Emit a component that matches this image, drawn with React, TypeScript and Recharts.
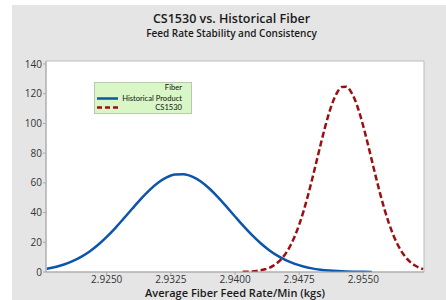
import {
  LineChart,
  Line,
  XAxis,
  YAxis,
  Legend,
  ReferenceArea,
} from "recharts";

// Feed rate (kg/min) readings and density values
const histRate = [
  2.918, 2.919, 2.92, 2.921, 2.922, 2.923, 2.924, 2.925, 2.926, 2.927,
  2.928, 2.929, 2.93, 2.931, 2.932, 2.933, 2.934, 2.935, 2.936, 2.937,
  2.938, 2.939, 2.94, 2.941, 2.942, 2.943, 2.944, 2.945, 2.946, 2.947,
  2.948, 2.949, 2.95, 2.951, 2.952, 2.953, 2.954, 2.955, 2.956,
];
const histDensity = [
  2.25, 3.42, 5.06, 7.27, 10.18, 13.86, 18.35, 23.63, 29.59, 36.04,
  42.7, 49.2, 55.13, 60.09, 63.7, 65.67, 65.85, 64.23, 60.93, 56.21,
  50.44, 44.02, 37.37, 30.85, 24.77, 19.35, 14.69, 10.86, 7.8, 5.45,
  3.7, 2.45, 1.58, 0.98, 0.6, 0.35, 0.2, 0.11, 0.06,
];

const csRate = [
  2.9409, 2.9415, 2.942, 2.9425, 2.943, 2.9435, 2.944, 2.9445, 2.945, 2.9455,
  2.946, 2.9465, 2.947, 2.9475, 2.948, 2.9485, 2.949, 2.9495, 2.95, 2.9505,
  2.951, 2.9515, 2.952, 2.9525, 2.953, 2.9535, 2.954, 2.9545, 2.955, 2.9555,
  2.956, 2.9565, 2.957, 2.9575, 2.958, 2.9585, 2.959, 2.9595, 2.96, 2.9605,
  2.961, 2.9615, 2.962,
];
const csDensity = [
  0.12, 0.24, 0.41, 0.69, 1.14, 1.82, 2.83, 4.3, 6.39, 9.25,
  13.06, 18.0, 24.2, 31.76, 40.68, 50.81, 61.95, 73.67, 85.5, 96.82,
  106.97, 115.33, 121.32, 124.52, 124.7, 121.86, 116.19, 108.09, 98.11, 86.9,
  75.1, 63.33, 52.1, 41.83, 32.76, 25.04, 18.68, 13.59, 9.65, 6.68,
  4.52, 2.98, 1.92,
];

const xTicks = [2.925, 2.9325, 2.94, 2.9475, 2.955];
const yTicks = [0, 20, 40, 60, 80, 100, 120, 140];

const histData = histRate.map((x, i) => ({ x, hist: histDensity[i] }));
const csData = csRate.map((x, i) => ({ x, cs: csDensity[i] }));

const X_MIN = 2.9179;
const X_MAX = 2.9621;
const Y_MAX = 142;

const FONT = "'Open Sans', 'Noto Sans', sans-serif";
const tickStyle = { fontSize: 10, fill: "#333", fontFamily: FONT };

const legendRow = {
  position: "absolute" as const,
  right: 9,
  lineHeight: "9px",
  whiteSpace: "nowrap" as const,
};

const FiberLegend = () => (
  <div
    style={{
      width: 98,
      height: 32,
      background: "#d9f6c6",
      border: "1px solid #b9c9b0",
      fontFamily: "Lato, 'Open Sans', sans-serif",
      fontSize: 7.6,
      color: "#111",
      position: "relative",
      boxSizing: "border-box",
    }}
  >
    <div style={{ ...legendRow, top: 0 }}>Fiber</div>
    <div style={{ ...legendRow, top: 11 }}>Historical Product</div>
    <div style={{ ...legendRow, top: 20 }}>CS1530</div>
    <svg width={30} height={32} style={{ position: "absolute", left: 0, top: 0 }}>
      <line x1={2} y1={15.5} x2={23} y2={15.5} stroke="#0b55aa" strokeWidth={2.5} />
      <line
        x1={2}
        y1={24.5}
        x2={23}
        y2={24.5}
        stroke="#9a1010"
        strokeWidth={2.5}
        strokeDasharray="5 3"
      />
    </svg>
  </div>
);

const App = () => {
  return (
    <div
      style={{
        position: "absolute",
        left: 0,
        top: 0,
        width: 446,
        height: 300,
        background: "#fff",
      }}
    >
      <div
        style={{
          position: "absolute",
          left: 12,
          top: 5,
          right: 0,
          bottom: 0,
          background: "#e5e5e5",
        }}
      />
      <div
        style={{
          position: "absolute",
          left: 0,
          width: 463,
          top: 11,
          textAlign: "center",
          fontFamily: FONT,
          color: "#1a1a1a",
        }}
      >
        <div style={{ fontSize: 12.5, fontWeight: 600, lineHeight: "16px" }}>
          CS1530 vs. Historical Fiber
        </div>
        <div style={{ fontSize: 10, fontWeight: 600, lineHeight: "13px" }}>
          Feed Rate Stability and Consistency
        </div>
      </div>
      <div style={{ position: "absolute", left: 0, top: 0 }}>
        <LineChart
          width={446}
          height={300}
          margin={{ top: 61, right: 22, bottom: 0, left: 0 }}
        >
          <ReferenceArea
            x1={X_MIN}
            x2={X_MAX}
            y1={0}
            y2={Y_MAX}
            fill="#fff"
            fillOpacity={1}
            stroke="#bdbdbd"
            strokeWidth={1}
          />
          <XAxis
            dataKey="x"
            type="number"
            domain={[X_MIN, X_MAX]}
            ticks={xTicks}
            tickFormatter={(v: number) => v.toFixed(4)}
            allowDataOverflow
            height={28}
            stroke="#a8a8a8"
            tickSize={3}
            tickMargin={1}
            tick={tickStyle}
            label={{
              value: "Average Fiber Feed Rate/Min (kgs)",
              position: "insideBottom",
              offset: 3,
              style: { fontSize: 11, fontWeight: 600, fill: "#1a1a1a", fontFamily: FONT },
            }}
          />
          <YAxis
            type="number"
            domain={[0, Y_MAX]}
            ticks={yTicks}
            allowDataOverflow
            width={46}
            stroke="#a8a8a8"
            tickSize={3}
            tickMargin={1}
            tick={tickStyle}
          />
          <Legend
            layout="vertical"
            verticalAlign="middle"
            align="center"
            wrapperStyle={{ top: 82, left: 94, width: 98, height: 32 }}
            content={() => <FiberLegend />}
          />
          <Line
            data={histData}
            dataKey="hist"
            name="Historical Product"
            type="monotone"
            stroke="#0b55aa"
            strokeWidth={2.5}
            dot={false}
            isAnimationActive={false}
          />
          <Line
            data={csData}
            dataKey="cs"
            name="CS1530"
            type="monotone"
            stroke="#9a1010"
            strokeWidth={2.5}
            strokeDasharray="6 3"
            dot={false}
            isAnimationActive={false}
          />
        </LineChart>
      </div>
    </div>
  );
};

export default App;
